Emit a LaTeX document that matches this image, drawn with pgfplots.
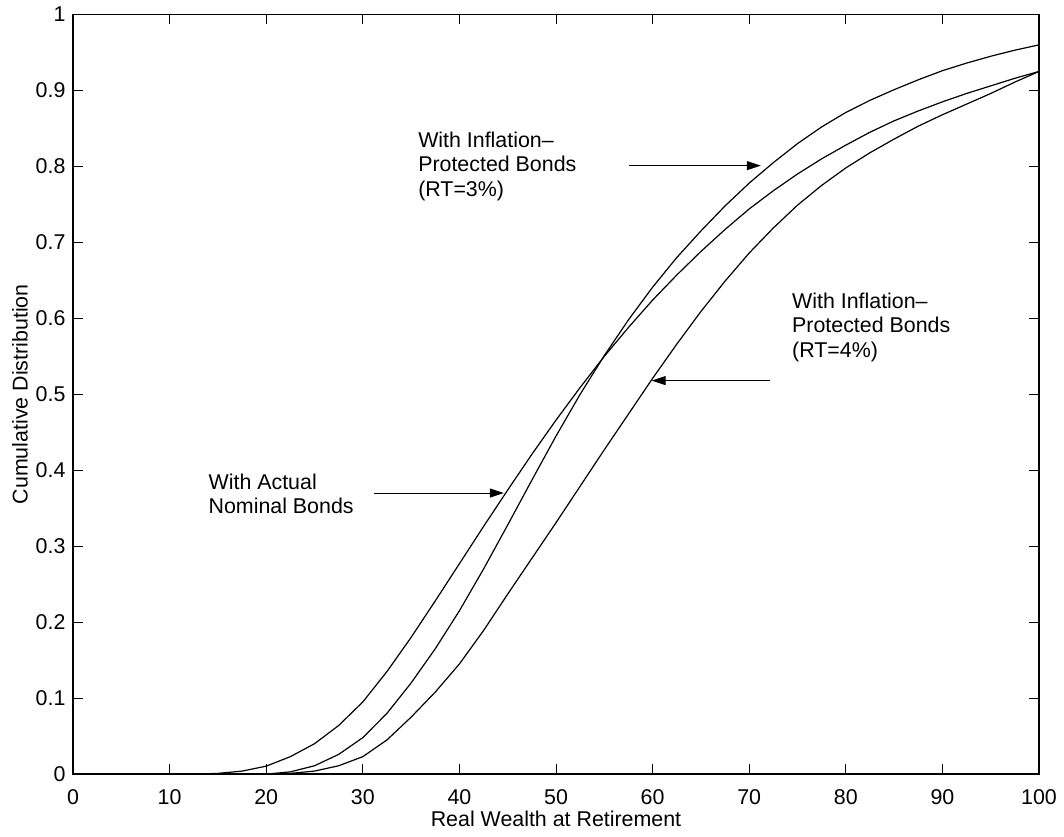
\documentclass[border=0pt]{standalone}
\usepackage{fontspec}
\setmainfont{Liberation Sans}
\usepackage{pgfplots}
\pgfplotsset{compat=1.18}
\usetikzlibrary{arrows.meta}

\begin{document}
\fontsize{10.7pt}{12.3pt}\selectfont
\begin{tikzpicture}
\begin{axis}[
  scale only axis, width=483.25pt, height=380pt,
  xmin=0, xmax=100, ymin=0, ymax=1,
  xtick={0,10,20,30,40,50,60,70,80,90,100},
  ytick={0,0.1,0.2,0.3,0.4,0.5,0.6,0.7,0.8,0.9,1},
  xtick pos=both, ytick pos=both,
  xticklabel pos=lower, yticklabel pos=left,
  tick align=inside, major tick length=5pt,
  tick style={line width=0.5pt, black},
  axis line style={line width=0.8pt},
  /pgf/number format/assume math mode=true,
  yticklabel style={/pgf/number format/fixed, /pgf/number format/precision=1, font=\fontsize{10.7pt}{12pt}\selectfont},
  xticklabel style={font=\fontsize{10.7pt}{12pt}\selectfont, yshift=-4pt},
  xlabel={Real Wealth at Retirement},
  ylabel={Cumulative Distribution},
  label style={font=\fontsize{10.7pt}{12pt}\selectfont},
  xlabel style={yshift=4pt},
  ylabel style={at={(axis description cs:-0.0548,0.5)}, anchor=center},
  clip=false,
]
% Actual nominal bonds
\addplot[black, line width=0.6pt] coordinates {
(0,0) (12.5,0) (15,0.001) (17.5,0.004) (20,0.0105) (22.5,0.023) (25,0.040) (27.5,0.064)
(30,0.095) (32.5,0.135) (35,0.180) (37.5,0.228) (40,0.277) (42.5,0.326) (45,0.374)
(47.5,0.421) (50,0.466) (52.5,0.509) (55,0.550) (57.5,0.588) (60,0.624) (62.5,0.657)
(65,0.688) (67.5,0.717) (70,0.744) (72.5,0.768) (75,0.790) (77.5,0.810) (80,0.828)
(82.5,0.845) (85,0.860) (87.5,0.873) (90,0.885) (92.5,0.896) (95,0.906) (97.5,0.916)
(100,0.925)
};
% RT=3%
\addplot[black, line width=0.6pt] coordinates {
(0,0) (20,0) (22.5,0.003) (25,0.011) (27.5,0.026) (30,0.048) (32.5,0.080) (35,0.120)
(37.5,0.165) (40,0.215) (42.5,0.270) (45,0.328) (47.5,0.387) (50,0.445) (52.5,0.500)
(55,0.551) (57.5,0.598) (60,0.641) (62.5,0.680) (65,0.715) (67.5,0.748) (70,0.778)
(72.5,0.805) (75,0.830) (77.5,0.852) (80,0.871) (82.5,0.887) (85,0.901) (87.5,0.914)
(90,0.926) (92.5,0.936) (95,0.945) (97.5,0.953) (100,0.960)
};
% RT=4%
\addplot[black, line width=0.6pt] coordinates {
(0,0) (20,0) (22.5,0.001) (25,0.004) (27.5,0.011) (30,0.023) (32.5,0.045) (35,0.075)
(37.5,0.108) (40,0.145) (42.5,0.189) (45,0.237) (47.5,0.284) (50,0.331) (52.5,0.379)
(55,0.427) (57.5,0.474) (60,0.521) (62.5,0.566) (65,0.609) (67.5,0.649) (70,0.686)
(72.5,0.719) (75,0.749) (77.5,0.775) (80,0.798) (82.5,0.818) (85,0.836) (87.5,0.853)
(90,0.868) (92.5,0.882) (95,0.896) (97.5,0.911) (100,0.925)
};
% annotations
\draw[-{Triangle[length=7pt,width=4.5pt]}, line width=0.5pt] (axis cs:57.6,0.801) -- (axis cs:71.2,0.801);
\node[anchor=west, align=left, inner sep=0pt, font=\fontsize{10.7pt}{12.3pt}\selectfont] at (axis cs:35.7,0.80) {With Inflation–\\Protected Bonds\\(RT=3\%)};
\draw[-{Triangle[length=7pt,width=4.5pt]}, line width=0.5pt] (axis cs:72.1,0.518) -- (axis cs:59.9,0.518);
\node[anchor=west, align=left, inner sep=0pt, font=\fontsize{10.7pt}{12.3pt}\selectfont] at (axis cs:74.4,0.588) {With Inflation–\\Protected Bonds\\(RT=4\%)};
\draw[-{Triangle[length=7pt,width=4.5pt]}, line width=0.5pt] (axis cs:31.2,0.370) -- (axis cs:44.6,0.370);
\node[anchor=west, align=left, inner sep=0pt, font=\fontsize{10.7pt}{12.3pt}\selectfont] at (axis cs:14.0,0.369) {With Actual\\Nominal Bonds};
\end{axis}
\path (current axis.south west) ++(-36.5pt,-31pt) rectangle ++(532pt,417.5pt);
\end{tikzpicture}
\end{document}
